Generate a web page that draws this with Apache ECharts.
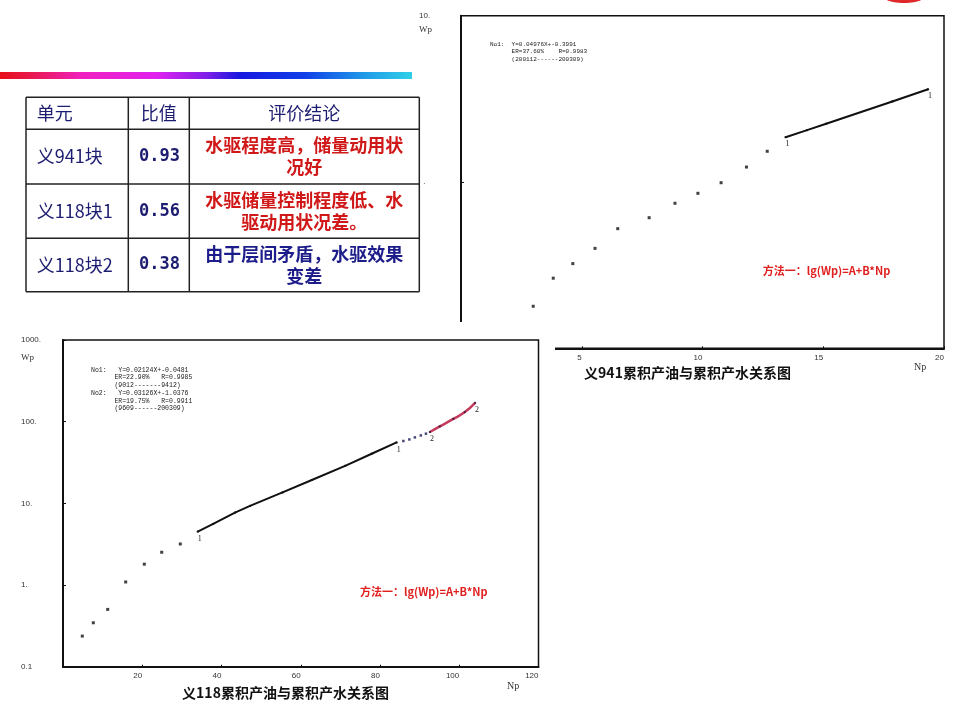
<!DOCTYPE html>
<html>
<head>
<meta charset="utf-8">
<script src="https://cdn.jsdelivr.net/npm/echarts@6/dist/echarts.min.js"></script>
<style>
  html,body{margin:0;padding:0;background:#fff;}
  #page{position:relative;width:960px;height:720px;overflow:hidden;background:#fff;}
  #c941{position:absolute;left:0;top:0;width:960px;height:720px;}
  #c118{position:absolute;left:0;top:322px;width:555px;height:398px;background:#fff;}
</style>
</head>
<body>
<div id="page">
  <div id="c941"></div>
  <div id="c118"></div>
</div>
<script>
// 义941：累积产油 Np / 累积产水 Wp
var np941 = [2.99, 3.82, 4.63, 5.55, 6.49, 7.79, 8.86, 9.81, 10.77, 11.82, 12.68];
var wp941 = [0.179, 0.264, 0.323, 0.399, 0.524, 0.610, 0.745, 0.855, 0.99, 1.23, 1.53];
var fitNp941 = [13.44, 14.33, 15.12, 17.86, 19.34];
var fitWp941 = [1.86, 2.05, 2.24, 3.05, 3.61];

// 义118
var np118 = [4.87, 7.65, 11.28, 15.82, 20.52, 24.91, 29.6];
var wp118 = [0.237, 0.345, 0.503, 1.09, 1.80, 2.52, 3.18];
var fit1Np = [34.0, 37.9, 43.4, 47.2, 55.4, 62.8, 71.2, 77.9, 84.2];
var fit1Wp = [4.51, 5.6, 7.7, 9.3, 13.6, 19.3, 28.8, 40.5, 55.7];
var midNp = [85.9, 87.4, 88.8, 90.3, 91.6];
var midWp = [58.0, 60.6, 64.2, 67.9, 71.3];
var fit2Np = [92.6, 95.1, 98.5, 101.4, 104.0];
var fit2Wp = [74.8, 87.6, 108, 131, 170];

// 刻度
var yTicks941 = [0.1, 1, 10];
var yText941 = ['0.1', '1.', '10.'];
var yTicks118 = [0.1, 1, 10, 100, 1000];
var yText118 = ['0.1', '1.', '10.', '100.', '1000.'];

// 回归说明
var note941 = 'No1:  Y=0.04976X+-0.3991\n      ER=37.60%    R=0.9983\n      (200112------200309)';
var note118 = 'No1:   Y=0.02124X+-0.0481\n      ER=22.90%   R=0.9985\n      (9012-------9412)\n' +
              'No2:   Y=0.03126X+-1.0376\n      ER=19.75%   R=0.9911\n      (9609------200309)';
var methodText = '方法一：lg(Wp)=A+B*Np';

// 表格
var tblHead = ['单元', '比值', '评价结论'];
var tblUnit = ['义941块', '义118块1', '义118块2'];
var tblRatio = ['0.93', '0.56', '0.38'];
var tblNote = ['水驱程度高，储量动用状\n况好', '水驱储量控制程度低、水\n驱动用状况差。', '由于层间矛盾，水驱效果\n变差'];
var tblNoteColor = ['#d01818', '#d01818', '#1c1c8a'];

var CJK = '"Noto Sans CJK SC", sans-serif';

function pairs(xs, ys, tag){
  return xs.map(function(x, i){
    var item = {value: [x, ys[i]]};
    if (tag && (i === 0 || i === xs.length - 1)) {
      item.label = {show: true, formatter: tag};
    }
    return item;
  });
}

function tickFmt(ticks, texts){
  return function(v){
    for (var i = 0; i < ticks.length; i++) {
      if (Math.abs(ticks[i] - v) / ticks[i] < 1e-6) return texts[i];
    }
    return '';
  };
}

var endLabel = {show: false, position: 'bottom', distance: 2, offset: [2, 0],
  fontSize: 8, color: '#222', fontFamily: 'Liberation Serif'};

function tableGraphics(){
  var colX = [26, 128.3, 189.3, 419.3];
  var rowY = [97.3, 129.3, 184, 238.3, 291.7];
  var g = [];
  g.push({type: 'rect', z: 100, shape: {x: 18, y: 90, width: 405, height: 208}, style: {fill: '#fff'}});
  rowY.forEach(function(y){
    g.push({type: 'line', z: 101, shape: {x1: colX[0], y1: y, x2: colX[3], y2: y}, style: {stroke: '#222', lineWidth: 1.5}});
  });
  colX.forEach(function(x){
    g.push({type: 'line', z: 101, shape: {x1: x, y1: rowY[0], x2: x, y2: rowY[4]}, style: {stroke: '#222', lineWidth: 1.5}});
  });
  var navy = '#1c1c70';
  g.push({type: 'text', z: 102, style: {text: tblHead[0], x: 36.7, y: 113.3, align: 'left', verticalAlign: 'middle',
    fontSize: 18, fontFamily: CJK, fill: navy}});
  g.push({type: 'text', z: 102, style: {text: tblHead[1], x: 158.8, y: 113.3, align: 'center', verticalAlign: 'middle',
    fontSize: 18, fontFamily: CJK, fill: navy}});
  g.push({type: 'text', z: 102, style: {text: tblHead[2], x: 304.3, y: 113.3, align: 'center', verticalAlign: 'middle',
    fontSize: 18, fontFamily: CJK, fill: navy}});
  for (var i = 0; i < 3; i++) {
    var cy = (rowY[i + 1] + rowY[i + 2]) / 2;
    g.push({type: 'text', z: 102, style: {text: tblUnit[i], x: 36.7, y: cy, align: 'left', verticalAlign: 'middle',
      fontSize: 18, fontFamily: CJK, fill: navy}});
    g.push({type: 'text', z: 102, style: {text: tblRatio[i], x: 159.5, y: cy, align: 'center', verticalAlign: 'middle',
      fontSize: 17, fontWeight: 'bold', fontFamily: '"DejaVu Sans Mono", monospace', fill: navy}});
    g.push({type: 'text', z: 102, style: {text: tblNote[i], x: 304.3, y: cy, align: 'center', verticalAlign: 'middle',
      lineHeight: 22, fontSize: 18, fontWeight: 'bold', fontFamily: CJK, fill: tblNoteColor[i]}});
  }
  return g;
}

// ---- 义941 图（右上）
var chart941 = echarts.init(document.getElementById('c941'));
chart941.setOption({
  animation: false,
  backgroundColor: 'transparent',
  grid: {left: 461, top: 15.7, width: 483, height: 332.6, show: true, borderColor: '#111', borderWidth: 1.5},
  xAxis: {
    type: 'value', min: 0, max: 20, interval: 5,
    axisLine: {show: true, onZero: false, lineStyle: {color: '#111', width: 2}},
    axisTick: {show: true, inside: true, length: 2, lineStyle: {color: '#111'}},
    axisLabel: {showMinLabel: false, margin: 5, align: 'right', fontSize: 8, color: '#333', fontFamily: 'Liberation Sans'},
    splitLine: {show: false}
  },
  yAxis: {
    type: 'log', logBase: 10, min: 0.1, max: 10,
    axisLine: {show: true, lineStyle: {color: '#111', width: 2}},
    axisTick: {show: true, inside: true, length: 3, lineStyle: {color: '#111'}},
    axisLabel: {margin: 42, align: 'left', fontSize: 8, color: '#333', fontFamily: 'Liberation Sans',
      formatter: tickFmt(yTicks941, yText941)},
    splitLine: {show: false}, minorTick: {show: false}
  },
  series: [
    {type: 'scatter', data: pairs(np941, wp941), symbol: 'rect', symbolSize: 3,
      itemStyle: {color: '#111'}},
    {type: 'line', data: pairs(fitNp941, fitWp941, '1'), showSymbol: true, symbol: 'rect', symbolSize: 2,
      itemStyle: {color: '#111'}, lineStyle: {color: '#111', width: 2}, label: endLabel}
  ],
  graphic: [
    {type: 'rect', z: 50, shape: {x: 0, y: 72, width: 412, height: 7},
      style: {fill: new echarts.graphic.LinearGradient(0, 0, 1, 0, [
        {offset: 0, color: '#e8101a'}, {offset: 0.07, color: '#e81848'},
        {offset: 0.2, color: '#f020c0'}, {offset: 0.38, color: '#e020f0'},
        {offset: 0.5, color: '#8020e8'}, {offset: 0.58, color: '#1818e0'},
        {offset: 0.74, color: '#1040e8'}, {offset: 0.88, color: '#2098e8'},
        {offset: 1, color: '#30d0e8'}])}},
    {type: 'ellipse', z: 50, shape: {cx: 904, cy: -4, rx: 21, ry: 7}, style: {fill: '#e02828'}},
    {type: 'text', z: 50, style: {text: 'Wp', x: 419, y: 30, align: 'left', verticalAlign: 'middle',
      fontSize: 9, fontFamily: 'Liberation Serif', fill: '#333'}},
    {type: 'text', z: 50, style: {text: 'Np', x: 914, y: 367, align: 'left', verticalAlign: 'middle',
      fontSize: 10, fontFamily: 'Liberation Serif', fill: '#333'}},
    {type: 'text', z: 50, style: {text: note941, x: 490, y: 40.6, align: 'left', verticalAlign: 'top',
      lineHeight: 7.4, fontSize: 6, fontFamily: '"Liberation Mono", monospace', fill: '#222'}},
    {type: 'text', z: 50, style: {text: methodText, x: 762.7, y: 271, align: 'left', verticalAlign: 'middle',
      fontSize: 11, fontWeight: 'bold', fontFamily: CJK, fill: '#e02020'}},
    {type: 'text', z: 50, style: {text: '义941累积产油与累积产水关系图', x: 687.5, y: 373, align: 'center', verticalAlign: 'middle',
      fontSize: 14, fontWeight: 'bold', fontFamily: CJK, fill: '#111'}}
  ].concat(tableGraphics())
});

// ---- 义118 图（左下）
var chart118 = echarts.init(document.getElementById('c118'));
chart118.setOption({
  animation: false,
  backgroundColor: '#fff',
  grid: {left: 63, top: 18, width: 475.5, height: 326.7, show: true, borderColor: '#111', borderWidth: 1.5},
  xAxis: {
    type: 'value', min: 0, max: 120, interval: 20,
    axisLine: {show: true, onZero: false, lineStyle: {color: '#111', width: 2}},
    axisTick: {show: true, inside: true, length: 2, lineStyle: {color: '#111'}},
    axisLabel: {showMinLabel: false, margin: 5, align: 'right', fontSize: 8, color: '#333', fontFamily: 'Liberation Sans'},
    splitLine: {show: false}
  },
  yAxis: {
    type: 'log', logBase: 10, min: 0.1, max: 1000,
    axisLine: {show: true, lineStyle: {color: '#111', width: 2}},
    axisTick: {show: true, inside: true, length: 3, lineStyle: {color: '#111'}},
    axisLabel: {margin: 42, align: 'left', fontSize: 8, color: '#333', fontFamily: 'Liberation Sans',
      formatter: tickFmt(yTicks118, yText118)},
    splitLine: {show: false}, minorTick: {show: false}
  },
  series: [
    {type: 'scatter', data: pairs(np118, wp118), symbol: 'rect', symbolSize: 3,
      itemStyle: {color: '#111'}},
    {type: 'line', data: pairs(fit1Np, fit1Wp, '1'), showSymbol: true, symbol: 'rect', symbolSize: 2,
      itemStyle: {color: '#111'}, lineStyle: {color: '#111', width: 2}, label: endLabel},
    {type: 'scatter', data: pairs(midNp, midWp), symbol: 'rect', symbolSize: 2.5,
      itemStyle: {color: '#1a1a55'}},
    {type: 'line', data: pairs(fit2Np, fit2Wp, '2'), smooth: true, showSymbol: true, symbol: 'rect', symbolSize: 2,
      itemStyle: {color: '#4a2040'}, lineStyle: {color: '#b8183f', width: 2.5, opacity: 0.85}, label: endLabel}
  ],
  graphic: [
    {type: 'text', style: {text: 'Wp', x: 21, y: 36, align: 'left', verticalAlign: 'middle',
      fontSize: 9, fontFamily: 'Liberation Serif', fill: '#333'}},
    {type: 'text', style: {text: 'Np', x: 507, y: 364, align: 'left', verticalAlign: 'middle',
      fontSize: 10, fontFamily: 'Liberation Serif', fill: '#333'}},
    {type: 'text', style: {text: note118, x: 91, y: 44.2, align: 'left', verticalAlign: 'top',
      lineHeight: 7.7, fontSize: 6.5, fontFamily: '"Liberation Mono", monospace', fill: '#222'}},
    {type: 'text', style: {text: methodText, x: 360, y: 269.7, align: 'left', verticalAlign: 'middle',
      fontSize: 11, fontWeight: 'bold', fontFamily: CJK, fill: '#e02020'}},
    {type: 'text', style: {text: '义118累积产油与累积产水关系图', x: 285.5, y: 370.7, align: 'center', verticalAlign: 'middle',
      fontSize: 14, fontWeight: 'bold', fontFamily: CJK, fill: '#111'}}
  ]
});
</script>
</body>
</html>
